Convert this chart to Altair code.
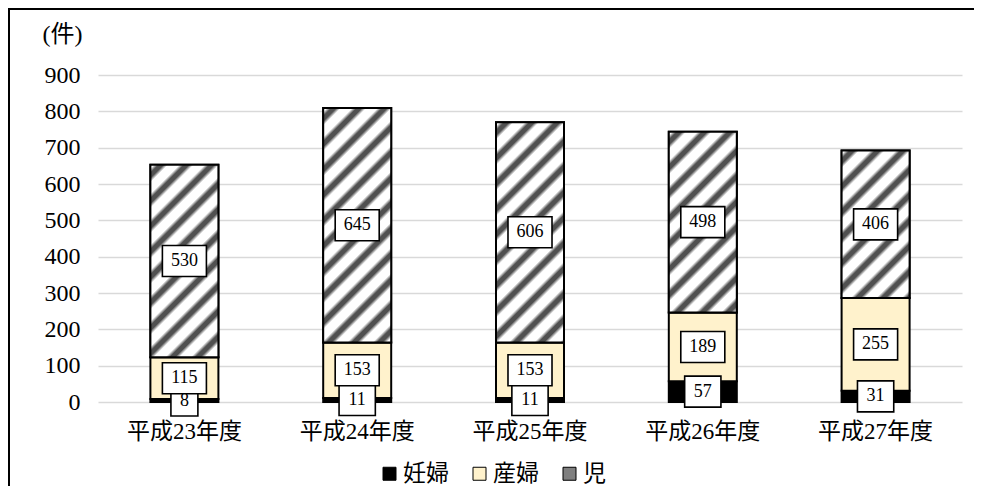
import math
import altair as alt

# ---- data ----
years = ["平成23年度", "平成24年度", "平成25年度", "平成26年度", "平成27年度"]
series_names = ["妊婦", "産婦", "児"]
ninpu = [8, 11, 11, 57, 31]
sanpu = [115, 153, 153, 189, 255]
ji = [530, 645, 606, 498, 406]
y_ticks = [0, 100, 200, 300, 400, 500, 600, 700, 800, 900]

series_colors = ["#000000", "#FFF2CC", "#7F7F7F"]

rows = []
for i, yr in enumerate(years):
    for k, (name, vals) in enumerate(zip(series_names, [ninpu, sanpu, ji])):
        rows.append({"year": yr, "series": name, "order": k, "value": vals[i]})
data = alt.Data(values=rows)

# ---- layout ----
PLOT_W, PLOT_H = 864, 327
YMAX = 900
BAR = 68
SERIF = "Liberation Serif"
MIXED = "Liberation Serif, Noto Sans CJK JP"


def stripes(w, h, period=18.0):
    """Diagonal '/' hatch as a bounding-box linear gradient."""
    n = (w + h) / (math.sqrt(2) * period)
    s = (w + h) / (w * w + h * h)
    pattern = [(0.0, "#ffffff"), (0.14, "#ffffff"), (0.32, "#505050"),
               (0.52, "#505050"), (0.70, "#ffffff"), (1.0, "#ffffff")]
    stops = []
    k = 0
    while k < n:
        for f, c in pattern:
            off = (k + f) / n
            if off <= 1:
                stops.append({"offset": round(off, 5), "color": c})
        k += 1
    return {"gradient": "linear", "x1": 0, "y1": 0,
            "x2": round(s * w, 6), "y2": round(s * h, 6), "stops": stops}


x_enc = alt.X("year:N", sort=years,
              axis=alt.Axis(title=None, labelAngle=0, domain=False, ticks=False,
                            tickSize=0, labelFont=MIXED, labelFontSize=23,
                            labelColor="black", labelPadding=18))
y_scale = alt.Scale(domain=[0, YMAX])
y_axis = alt.Axis(values=y_ticks, title="(件)", titleAngle=0, titleX=-56, titleY=-41,
                  titleAlign="left", titleBaseline="middle", titleFont=MIXED,
                  titleFontSize=24, titleFontWeight="normal", titleColor="black",
                  domain=False, ticks=False, tickSize=0, labelFont=SERIF,
                  labelFontSize=24, labelColor="black", labelPadding=18,
                  grid=True, gridColor="#d9d9d9", gridWidth=1.3)

base = alt.Chart(data).transform_stack(
    stack="value", groupby=["year"],
    sort=[alt.SortField("order", order="ascending")], as_=["v0", "v1"]
).transform_calculate(mid="(datum.v0 + datum.v1) / 2")

bars = base.mark_bar(size=BAR, stroke="black", strokeWidth=2).encode(
    x=x_enc,
    y=alt.Y("v0:Q", scale=y_scale, axis=y_axis),
    y2="v1:Q",
    color=alt.Color("series:N", sort=series_names,
                    scale=alt.Scale(domain=series_names, range=series_colors),
                    legend=alt.Legend(orient="none", legendX=280, legendY=387,
                                      direction="horizontal", title=None,
                                      symbolType="square", symbolSize=169,
                                      symbolStrokeColor="black", symbolStrokeWidth=1,
                                      labelFont=MIXED, labelFontSize=23,
                                      labelColor="black", labelOffset=2,
                                      columnPadding=19)),
)

layers = [bars]
px_per_unit = PLOT_H / YMAX
for i, yr in enumerate(years):
    grad = stripes(BAR, ji[i] * px_per_unit)
    layers.append(
        base.transform_filter(f"datum.year == '{yr}' && datum.series == '児'")
        .mark_bar(size=BAR, stroke="black", strokeWidth=2)
        .encode(x=x_enc, y=alt.Y("v0:Q", scale=y_scale, axis=y_axis), y2="v1:Q",
                color=alt.value(grad))
    )

box_expr = ("datum.value < 10 ? 'M-0.87,-1L0.87,-1L0.87,1L-0.87,1Z' : "
            "datum.value < 100 ? 'M-1.17,-1L1.17,-1L1.17,1L-1.17,1Z' : "
            "'M-1.42,-1L1.42,-1L1.42,1L-1.42,1Z'")

boxes = base.transform_calculate(box=box_expr).mark_point(
    filled=True, fill="white", stroke="black", strokeWidth=1.6, size=961, opacity=1
).encode(
    x=x_enc,
    y=alt.Y("mid:Q", scale=y_scale, axis=y_axis),
    shape=alt.Shape("box:N", scale=None),
)

labels = base.mark_text(font=SERIF, fontSize=18, color="black", baseline="middle",
                        align="center").encode(
    x=x_enc,
    y=alt.Y("mid:Q", scale=y_scale, axis=y_axis),
    text="value:Q",
)

one = alt.Data(values=[{"f": 1}])
frame_left = alt.Chart(one).mark_rule(color="black", strokeWidth=2).encode(
    x=alt.value(-89), y=alt.value(-66), y2=alt.value(3000))
frame_top = alt.Chart(one).mark_rule(color="black", strokeWidth=2).encode(
    x=alt.value(-90), x2=alt.value(3000), y=alt.value(-66))

chart = alt.layer(*layers, boxes, labels, frame_left, frame_top).properties(
    width=PLOT_W, height=PLOT_H,
    padding={"left": 90, "top": 67, "right": 12, "bottom": 84},
    autosize=alt.AutoSizeParams(type="none"),
).configure_view(stroke="transparent")

chart.save("out.html", embed_options={"renderer": "svg", "actions": False})
